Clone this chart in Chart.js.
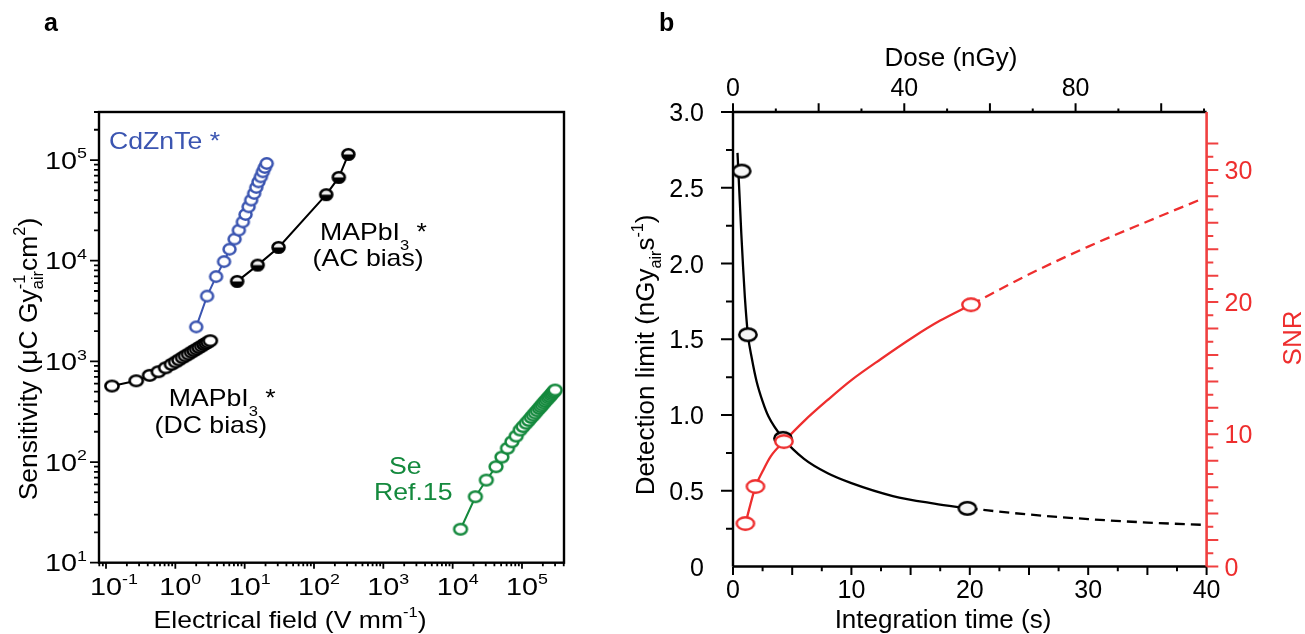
<!DOCTYPE html>
<html lang="en">
<head>
<meta charset="UTF-8">
<title>Sensitivity and detection limit</title>
<script src="https://cdn.jsdelivr.net/npm/chart.js"></script>
<style>
  body { margin: 0; background: #fff; }
  #wrap { position: relative; width: 1305px; height: 634px; }
  .panel { position: absolute; top: 0; height: 634px; }
  #panelA { left: 0; width: 600px; }
  #panelB { left: 600px; width: 705px; }
</style>
</head>
<body>
<div id="wrap">
  <div class="panel" id="panelA"><canvas id="chartA"></canvas></div>
  <div class="panel" id="panelB"><canvas id="chartB"></canvas></div>
</div>
<script>
// ---- panel a : sensitivity vs electrical field ----
var cztField = [2.0, 2.87, 3.87, 5.04, 6.05, 7.15, 8.25, 9.42, 10.3, 11.4, 12.4, 13.7, 14.7, 15.8, 17.1, 18.3, 19.5, 20.8];
var cztSens  = [2200, 4450, 6950, 9800, 13000, 16400, 20100, 24300, 28800, 34300, 40000, 46600, 53500, 60700, 68100, 76400, 84400, 92500];

var acField = [7.8, 15.4, 30.8, 150, 228, 313];
var acSens  = [6230, 9040, 13550, 45300, 67200, 113700];

var dcField = [0.122, 0.273, 0.426, 0.57, 0.727, 0.881, 1.01, 1.13, 1.27, 1.40, 1.55, 1.71, 1.86, 2.02, 2.20, 2.39, 2.59, 2.77, 2.96, 3.19];
var dcSens  = [569, 641, 726, 789, 864, 934, 986, 1035, 1088, 1135, 1181, 1234, 1277, 1322, 1371, 1419, 1469, 1510, 1552, 1603];

var seField = [13000, 21300, 30600, 42200, 51300, 61800, 71500, 82500, 94200, 104000, 115000, 125000, 135800, 145200, 155000, 165600, 177000, 186000, 195500, 205500, 216000, 227000, 239000, 249500, 260500, 271000, 282000, 291500, 301000];
var seSens  = [21.5, 45.2, 66.2, 89.8, 112, 137, 159, 181, 208, 225, 243, 259, 277, 292, 307, 324, 341, 355, 369, 385, 400, 416, 432, 447, 463, 478, 492, 506, 519];

var fieldExp = [-1, 0, 1, 2, 3, 4, 5];   // x tick labels 10^n
var sensExp  = [1, 2, 3, 4, 5];          // y tick labels 10^n

// ---- panel b : detection limit and SNR vs integration time ----
var timeDL   = [0.73, 1.26, 4.22, 19.8];
var detLimit = [2.61, 1.53, 0.846, 0.384];
var timeSNR  = [1.05, 1.9, 4.3, 20.1];
var snr      = [3.25, 6.05, 9.45, 19.8];

var dlFitTime  = [0.38, 0.55, 0.7, 0.85, 1.0, 1.26, 1.6, 2.0, 2.5, 3.0, 4.22, 6.0, 8.0, 10, 13.5, 17, 19.8];
var dlFit      = [2.73, 2.45, 2.2, 1.98, 1.78, 1.53, 1.37, 1.22, 1.09, 0.99, 0.846, 0.71, 0.615, 0.55, 0.465, 0.415, 0.384];
var dlExtTime  = [19.8, 25, 30, 35, 40];
var dlExt      = [0.384, 0.343, 0.313, 0.29, 0.274];
var snrFitTime = [1.05, 1.9, 2.5, 3.2, 4.3, 6, 8, 10, 12.5, 15.3, 17.5, 20.1];
var snrFit     = [3.25, 6.05, 7.2, 8.35, 9.45, 11.0, 12.6, 14.1, 15.7, 17.4, 18.6, 19.8];
var snrExtTime = [20.1, 25, 30, 35, 39.6];
var snrExt     = [19.8, 22.1, 24.2, 26.1, 27.8];

var dlTicks    = [0, 0.5, 1, 1.5, 2, 2.5, 3];
var dlLabels   = ['0', '0.5', '1.0', '1.5', '2.0', '2.5', '3.0'];
var timeTicks  = [0, 10, 20, 30, 40];
var doseTicks  = [0, 40, 80];
var snrTicks   = [0, 10, 20, 30];

var BLUE = '#3b55b1', GREEN = '#14893d', RED = '#ee2e2e', RED_AXIS = '#f04040';
var FONT = '"Liberation Sans", Arial, Helvetica, sans-serif';

function pairs(xs, ys) {
  return xs.map(function (x, i) { return { x: x, y: ys[i] }; });
}

// ring / ellipse markers used as point styles
function marker(color, rx, ry, lw, fill, halfFill) {
  var c = document.createElement('canvas');
  c.width = Math.ceil(2 * rx + lw + 2);
  c.height = Math.ceil(2 * ry + lw + 2);
  var g = c.getContext('2d');
  var cx = c.width / 2, cy = c.height / 2;
  g.beginPath();
  g.ellipse(cx, cy, rx, ry, 0, 0, 2 * Math.PI);
  g.fillStyle = fill;
  g.fill();
  if (halfFill) {
    g.beginPath();
    g.ellipse(cx, cy, rx, ry, 0, 0, Math.PI);
    g.closePath();
    g.fillStyle = color;
    g.fill();
  }
  g.beginPath();
  g.ellipse(cx, cy, rx, ry, 0, 0, 2 * Math.PI);
  g.lineWidth = lw;
  g.strokeStyle = color;
  g.stroke();
  return c;
}

// text with super/subscripts; y is the cap-height centre
function drawRich(ctx, parts, x, y, o) {
  var size = o.size, small = size * 0.62;
  var weight = o.bold ? 'bold ' : '';
  var cursor = 0, end = 0, laid = [], firstW = 0;
  parts.forEach(function (p, i) {
    var s = (p.sup || p.sub) ? small : size;
    ctx.font = weight + s + 'px ' + FONT;
    var w = ctx.measureText(p.t).width;
    if (i === 0) firstW = w;
    var px = p.stack ? laid[i - 1].x : cursor;
    var dy = p.sup ? -0.43 * size : p.sub ? (p.low || 0.26) * size : 0;
    laid.push({ x: px, s: s, dy: dy, t: p.t });
    end = Math.max(end, px + w);
    cursor = end;
  });
  var sx = o.width ? o.width / end : (o.sx || 1);
  var off = 0;
  if (o.align === 'right') off = -end;
  else if (o.align === 'center') off = -end / 2;
  else if (o.align === 'first') off = -firstW / 2;
  ctx.save();
  ctx.translate(x, y);
  if (o.rot) ctx.rotate(o.rot);
  ctx.scale(sx, 1);
  ctx.fillStyle = o.color || '#000';
  ctx.textAlign = 'left';
  ctx.textBaseline = 'alphabetic';
  laid.forEach(function (l) {
    ctx.font = weight + l.s + 'px ' + FONT;
    ctx.fillText(l.t, off + l.x, 0.36 * size + l.dy);
  });
  ctx.restore();
}

function tick(ctx, x1, y1, x2, y2) {
  ctx.moveTo(x1, y1);
  ctx.lineTo(x2, y2);
}

// frame, log ticks and labels of panel a
var axesA = {
  id: 'axesA',
  afterDraw: function (chart) {
    var ctx = chart.ctx, a = chart.chartArea, xs = chart.scales.x, ys = chart.scales.y;
    ctx.save();
    ctx.strokeStyle = '#000';
    ctx.lineWidth = 2.4;
    ctx.strokeRect(a.left, a.top, a.right - a.left, a.bottom - a.top);

    ctx.lineWidth = 1.8;
    ctx.beginPath();
    for (var e = 1; e <= 5; e++) {
      for (var m = 1; m <= 9; m++) {
        var v = m * Math.pow(10, e);
        if (v > ys.max) continue;
        var py = ys.getPixelForValue(v);
        tick(ctx, a.left - (m === 1 ? 9 : 5), py, a.left, py);
      }
    }
    for (e = -2; e <= 5; e++) {
      for (m = 1; m <= 9; m++) {
        v = m * Math.pow(10, e);
        if (v < xs.min || v > xs.max) continue;
        var px = xs.getPixelForValue(v);
        tick(ctx, px, a.bottom, px, a.bottom + (m === 1 ? 6 : 3.5));
      }
    }
    ctx.stroke();

    sensExp.forEach(function (n) {
      drawRich(ctx, [{ t: '10' }, { t: String(n), sup: true }], a.left - 12, ys.getPixelForValue(Math.pow(10, n)),
        { size: 24, sx: 1.2, align: 'right' });
    });
    fieldExp.forEach(function (n) {
      drawRich(ctx, [{ t: '10' }, { t: String(n), sup: true }], xs.getPixelForValue(Math.pow(10, n)), 586,
        { size: 24, sx: 1.2, align: 'first' });
    });

    drawRich(ctx, [{ t: 'Electrical field (V mm' }, { t: '-1', sup: true }, { t: ')' }], 290, 619,
      { size: 24, width: 273, align: 'center' });
    drawRich(ctx, [{ t: 'Sensitivity (\u03bcC Gy' }, { t: 'air', sub: true }, { t: '-1', sup: true, stack: true },
      { t: 'cm' }, { t: '2', sup: true }, { t: ')' }], 27, 359,
      { size: 26.5, align: 'center', rot: -Math.PI / 2 });

    drawRich(ctx, [{ t: 'a' }], 44, 22, { size: 25, bold: true });

    drawRich(ctx, [{ t: 'CdZnTe *' }], 109, 140, { size: 24, sx: 1.11, color: BLUE });
    drawRich(ctx, [{ t: 'MAPbI' }, { t: '3', sub: true, low: 0.45 }, { t: ' *' }], 320, 231, { size: 24, sx: 1.11 });
    drawRich(ctx, [{ t: '(AC bias)' }], 312.6, 257, { size: 24, sx: 1.11 });
    drawRich(ctx, [{ t: 'MAPbI' }, { t: '3', sub: true, low: 0.45 }, { t: ' *' }], 168.8, 397, { size: 24, sx: 1.11 });
    drawRich(ctx, [{ t: '(DC bias)' }], 154.6, 424, { size: 24, sx: 1.11 });
    drawRich(ctx, [{ t: 'Se' }], 389, 465, { size: 24, sx: 1.11, color: GREEN });
    drawRich(ctx, [{ t: 'Ref.15' }], 374, 491, { size: 24, sx: 1.11, color: GREEN });
    ctx.restore();
  }
};

// axes of panel b: black left/bottom/top, red SNR axis on the right
var axesB = {
  id: 'axesB',
  afterDraw: function (chart) {
    var ctx = chart.ctx, a = chart.chartArea;
    var ts = chart.scales.x, ds = chart.scales.y, ss = chart.scales.snr, dose = chart.scales.dose;
    ctx.save();
    ctx.lineWidth = 2.4;
    ctx.strokeStyle = '#000';
    ctx.beginPath();
    tick(ctx, a.left, a.bottom, a.right, a.bottom);
    tick(ctx, a.left, a.top, a.right, a.top);
    tick(ctx, a.left, a.top, a.left, a.bottom);
    ctx.stroke();

    ctx.lineWidth = 2;
    ctx.beginPath();
    for (var v = 0.25; v <= 3.001; v += 0.25) {
      var py = ds.getPixelForValue(v);
      tick(ctx, a.left - (Math.round(v * 4) % 2 === 0 ? 12 : 7), py, a.left, py);
    }
    for (v = 0; v <= 40.001; v += 2.5) {
      var px = ts.getPixelForValue(v);
      tick(ctx, px, a.bottom, px, a.bottom + (Math.round(v * 2) % 10 === 0 ? 8.5 : 4.7));
    }
    for (v = 0; v <= dose.max; v += 10) {
      px = dose.getPixelForValue(v);
      tick(ctx, px, a.top, px, a.top - (v % 20 === 0 ? 8.7 : 3.5));
    }
    ctx.stroke();

    ctx.strokeStyle = RED_AXIS;
    ctx.lineWidth = 2.6;
    ctx.beginPath();
    tick(ctx, a.right, a.top, a.right, a.bottom);
    ctx.stroke();
    ctx.lineWidth = 2;
    ctx.beginPath();
    for (v = 0; v <= 32; v++) {
      py = ss.getPixelForValue(v);
      tick(ctx, a.right, py, a.right + (v % 2 === 0 ? 11.7 : 6.7), py);
    }
    ctx.stroke();

    dlTicks.forEach(function (t, i) {
      drawRich(ctx, [{ t: dlLabels[i] }], a.left - 29, ds.getPixelForValue(t), { size: 25, align: 'right' });
    });
    timeTicks.forEach(function (t) {
      drawRich(ctx, [{ t: String(t) }], ts.getPixelForValue(t), 589, { size: 25, align: 'center' });
    });
    doseTicks.forEach(function (t) {
      drawRich(ctx, [{ t: String(t) }], dose.getPixelForValue(t), 87, { size: 25, align: 'center' });
    });
    snrTicks.forEach(function (t) {
      drawRich(ctx, [{ t: String(t) }], a.right + 18, ss.getPixelForValue(t), { size: 25, color: RED });
    });

    drawRich(ctx, [{ t: 'Dose (nGy)' }], 351, 57, { size: 26, align: 'center' });
    drawRich(ctx, [{ t: 'Integration time (s)' }], 343, 619, { size: 26, align: 'center' });
    drawRich(ctx, [{ t: 'Detection limit (nGy' }, { t: 'air', sub: true }, { t: 's' }, { t: '-1', sup: true }, { t: ')' }],
      45, 355, { size: 26, align: 'center', rot: -Math.PI / 2 });
    drawRich(ctx, [{ t: 'SNR' }], 692, 338, { size: 26, align: 'center', rot: -Math.PI / 2, color: RED });
    drawRich(ctx, [{ t: 'b' }], 59, 22, { size: 25, bold: true });
    ctx.restore();
  }
};

var common = {
  responsive: true,
  maintainAspectRatio: false,
  animation: false,
  events: [],
  plugins: { legend: { display: false }, tooltip: { enabled: false } }
};

new Chart(document.getElementById('chartA'), {
  type: 'scatter',
  data: {
    datasets: [
      { data: pairs(cztField, cztSens), showLine: true, borderColor: BLUE, borderWidth: 2,
        pointStyle: marker(BLUE, 6.0, 5.2, 2.5, '#fff'), pointRadius: 7 },
      { data: pairs(acField, acSens), showLine: true, borderColor: '#000', borderWidth: 2,
        pointStyle: marker('#000', 6.0, 5.2, 2.6, '#eee', true), pointRadius: 7 },
      { data: pairs(dcField, dcSens), showLine: true, borderColor: '#000', borderWidth: 2,
        pointStyle: marker('#000', 6.6, 5.2, 2.6, '#fff'), pointRadius: 7 },
      { data: pairs(seField, seSens), showLine: true, borderColor: GREEN, borderWidth: 2,
        pointStyle: marker(GREEN, 6.4, 5.2, 2.5, '#fff'), pointRadius: 7 }
    ]
  },
  options: Object.assign({}, common, {
    layout: { padding: { left: 99, top: 112, right: 36, bottom: 71.3 } },
    scales: {
      x: { type: 'logarithmic', display: false, min: 0.07925, max: 403600 },
      y: { type: 'logarithmic', display: false, min: 10, max: 300000 }
    }
  }),
  plugins: [axesA]
});

var blackRing = marker('#000', 8.7, 6.2, 2.5, '#f6f6f6');
var redRing = marker(RED, 8.7, 6.2, 2.4, '#fff');

new Chart(document.getElementById('chartB'), {
  type: 'scatter',
  data: {
    datasets: [
      { data: pairs(timeSNR, snr), yAxisID: 'snr', pointStyle: redRing, pointRadius: 9 },
      { data: pairs(timeDL, detLimit), yAxisID: 'y', pointStyle: blackRing, pointRadius: 9 },
      { data: pairs(snrFitTime, snrFit), yAxisID: 'snr', showLine: true, pointRadius: 0,
        borderColor: RED, borderWidth: 2.3, cubicInterpolationMode: 'monotone' },
      { data: pairs(snrExtTime, snrExt), yAxisID: 'snr', showLine: true, pointRadius: 0,
        borderColor: RED, borderWidth: 2.3, borderDash: [10, 6], cubicInterpolationMode: 'monotone' },
      { data: pairs(dlFitTime, dlFit), yAxisID: 'y', showLine: true, pointRadius: 0,
        borderColor: '#000', borderWidth: 2.3, cubicInterpolationMode: 'monotone' },
      { data: pairs(dlExtTime, dlExt), yAxisID: 'y', showLine: true, pointRadius: 0,
        borderColor: '#000', borderWidth: 2.3, borderDash: [10, 6], cubicInterpolationMode: 'monotone' }
    ]
  },
  options: Object.assign({}, common, {
    layout: { padding: { left: 133, top: 112, right: 98.4, bottom: 67.5 } },
    scales: {
      x: { type: 'linear', display: false, min: 0, max: 40 },
      y: { type: 'linear', display: false, min: 0, max: 3 },
      snr: { axis: 'y', position: 'right', type: 'linear', display: false, min: 0, max: 34.38 },
      dose: { axis: 'x', position: 'top', type: 'linear', display: false, min: 0, max: 110.6 }
    }
  }),
  plugins: [axesB]
});
</script>
</body>
</html>
